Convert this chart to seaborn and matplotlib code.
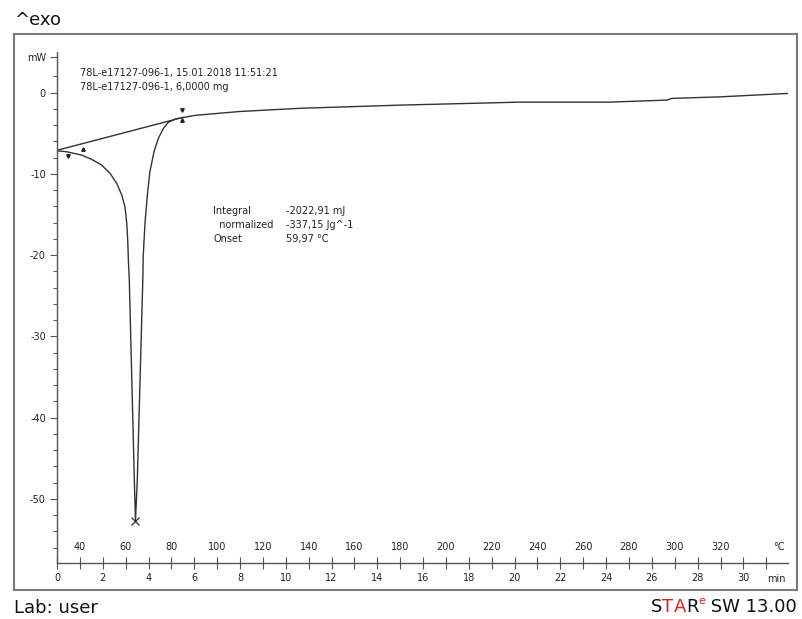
import numpy as np
import pandas as pd
import matplotlib
matplotlib.use('Agg')
import matplotlib.pyplot as plt
import seaborn as sns

# DSC curve: time (min) / heat flow (mW)
time_min = [0.0, 0.42, 1.08, 1.52, 1.95, 2.32, 2.61, 2.83, 2.97, 3.05, 3.09, 3.12,
            3.16, 3.27, 3.38, 3.43,
            3.51, 3.63, 3.75, 3.77, 3.85, 3.95, 4.06, 4.24, 4.43, 4.65, 4.86, 5.16, 5.45, 6.03,
            8.0, 10.62, 14.99, 20.24, 24.17, 25.04, 26.66, 26.88, 28.99, 31.95]
heat_mw = [-7.16, -7.28, -7.69, -8.22, -8.92, -9.94, -11.17, -12.61, -14.05, -16.09, -18.14, -20.6,
           -23.06, -35.36, -47.66, -52.71,
           -47.66, -35.36, -23.06, -19.99, -15.89, -12.61, -9.74, -7.28, -5.63, -4.40, -3.67, -3.26, -3.10, -2.80,
           -2.32, -1.93, -1.54, -1.17, -1.17, -1.08, -0.92, -0.71, -0.52, -0.10]

# integration baseline and limit markers
base_t = [0.0, 5.5]
base_mw = [-7.1, -3.05]
lim_t = [0.47, 1.15, 5.45, 5.45]
lim_mw = [-7.8, -7.0, -2.2, -3.4]
lim_mk = ['v', '^', 'v', '^']
peak_t, peak_mw = 3.43, -52.71

# axis ticks
y_major = [0, -10, -20, -30, -40, -50]
y_minor = list(range(2, -58, -2))
min_ticks = list(range(0, 31, 2))
odd_ticks = list(range(1, 32, 2))
temp_ticks = list(range(1, 30, 2))
temp_labels = [str(30 + 10 * m) for m in temp_ticks]

info_lines = ['78L-e17127-096-1, 15.01.2018 11:51:21', '78L-e17127-096-1, 6,0000 mg']
res_names = ['Integral', '  normalized', 'Onset']
res_values = ['-2022,91 mJ', '-337,15 Jg^-1', '59,97 \u00b0C']

sns.set_style('white')
plt.rcParams['font.family'] = ['DejaVu Sans']

W, H = 802, 619
fig = plt.figure(figsize=(W / 100, H / 100), dpi=100)

# outer grey frame
frame = fig.add_axes([14 / W, (H - 590) / H, (797 - 14) / W, (590 - 34) / H])
frame.set_xticks([]); frame.set_yticks([])
frame.patch.set_alpha(0)
for s in frame.spines.values():
    s.set_color('#7a7a7a'); s.set_linewidth(1.5)

ax = fig.add_axes([57 / W, (H - 563) / H, (788 - 57) / W, (563 - 52) / H])
ax.patch.set_alpha(0)
ax.set_xlim(0, 31.95)
ax.set_ylim(-57.9, 5.0)

df = pd.DataFrame({'t': time_min, 'mw': heat_mw})
sns.lineplot(data=df, x='t', y='mw', ax=ax, color='#333333', lw=1.0, estimator=None, sort=False)
sns.lineplot(x=base_t, y=base_mw, ax=ax, color='#333333', lw=1.0, estimator=None)
for t, m, mk in zip(lim_t, lim_mw, lim_mk):
    ax.plot(t, m, marker=mk, ms=2.5, color='#222222')
ax.plot(peak_t, peak_mw, marker='x', ms=6, mew=0.9, color='#333333')

# spines / ticks
for side in ['top', 'right']:
    ax.spines[side].set_visible(False)
for side in ['left', 'bottom']:
    ax.spines[side].set_color('#555555')
    ax.spines[side].set_linewidth(1.0)

ax.set_yticks(y_major + [4.4])
ax.set_yticklabels([str(v) for v in y_major] + ['mW'])
ax.set_yticks(y_minor, minor=True)
ax.tick_params(axis='y', which='major', direction='out', length=5, width=0.8, left=True,
               color='#555555', labelsize=7, pad=3, labelcolor='#222222')
ax.tick_params(axis='y', which='minor', direction='out', length=3, width=0.8, left=True,
               color='#555555')

ax.set_xticks(min_ticks)
ax.set_xticklabels([str(v) for v in min_ticks])
ax.set_xticks(odd_ticks, minor=True)
ax.tick_params(axis='x', which='both', direction='inout', length=9, width=0.8, bottom=True,
               color='#555555', labelsize=7, pad=3, labelcolor='#222222')
ax.set_xlabel(''); ax.set_ylabel('')

# temperature scale above the axis line
xt = ax.get_xaxis_transform()
for m, lab in zip(temp_ticks, temp_labels):
    ax.text(m, 0.032, lab, transform=xt, ha='center', va='center', fontsize=7, color='#222222')
ax.text(31.55, 0.032, '\u00b0C', transform=xt, ha='center', va='center', fontsize=7, color='#222222')
ax.text(31.45, -0.031, 'min', transform=xt, ha='center', va='center', fontsize=7, color='#222222')

# header text
for i, line in enumerate(info_lines):
    ax.text(1.0, 2.45 - i * 1.72, line, ha='left', va='center', fontsize=7, color='#222222')

for i, (n, v) in enumerate(zip(res_names, res_values)):
    y = -14.6 - i * 1.72
    ax.text(6.82, y, n, ha='left', va='center', fontsize=7, color='#222222')
    ax.text(10.0, y, v, ha='left', va='center', fontsize=7, color='#222222')

# page texts
fig.text(14 / W, 1 - 20 / H, '^exo', ha='left', va='center', fontsize=13, color='#111111')
fig.text(14 / W, 1 - 608 / H, 'Lab: user', ha='left', va='center', fontsize=13, color='#111111')

# "STARe SW 13.00", built right to left
sw = fig.text(797 / W, 1 - 607 / H, ' SW 13.00', ha='right', va='center', fontsize=13,
              color='#111111')
prev = sw
for piece, col, fs, dy in [('e', '#e02020', 8, 0.85), ('R', '#111111', 13, 0.5),
                           ('A', '#e02020', 13, 0.5), ('T', '#e02020', 13, 0.5),
                           ('S', '#111111', 13, 0.5)]:
    prev = ax.annotate(piece, xy=(0, dy), xycoords=(prev, sw), ha='right', va='center',
                       fontsize=fs, color=col, annotation_clip=False)

fig.savefig('out.png', dpi=100)
